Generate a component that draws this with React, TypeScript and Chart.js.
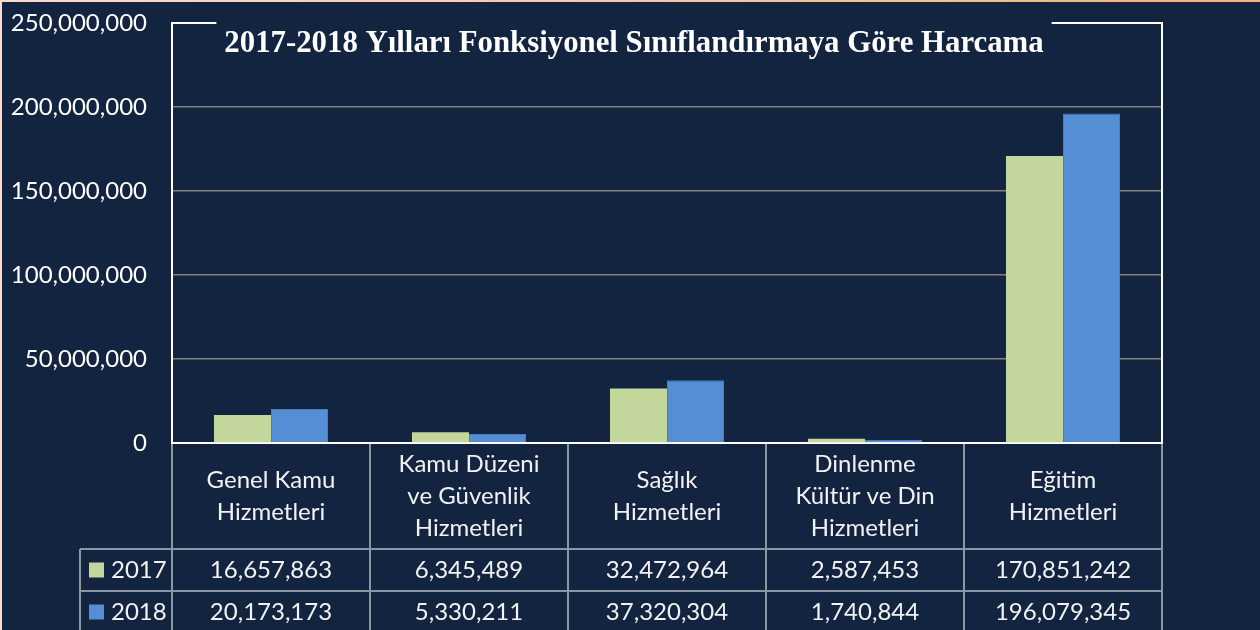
import React, { useEffect, useRef } from 'react';
import { Chart, registerables } from 'chart.js';

Chart.register(...registerables);

const categories: string[][] = [
  ['Genel Kamu', 'Hizmetleri'],
  ['Kamu Düzeni', 've Güvenlik', 'Hizmetleri'],
  ['Sağlık', 'Hizmetleri'],
  ['Dinlenme', 'Kültür ve Din', 'Hizmetleri'],
  ['Eğitim', 'Hizmetleri'],
];
const seriesNames = ['2017', '2018'];
const values2017 = [16657863, 6345489, 32472964, 2587453, 170851242];
const values2018 = [20173173, 5330211, 37320304, 1740844, 196079345];
const yMin = 0;
const yMax = 250000000;
const yStep = 50000000;
const titleText = '2017-2018 Yılları Fonksiyonel Sınıflandırmaya Göre Harcama';

const NAVY = '#12243f';
const GREEN = '#c3d69b';
const BLUE = '#558ed5';
const TABLE_LINE = '#8d96a3';
const FONT = 'Lato, "Noto Sans", sans-serif';

const fmt = (v: number) => Number(v).toLocaleString('en-US');

const decorPlugin = {
  id: 'decor',
  beforeDraw(chart: any) {
    const { ctx, width, height } = chart;
    ctx.save();
    ctx.fillStyle = NAVY;
    ctx.fillRect(0, 0, width, height);
    const g = ctx.createLinearGradient(0, 0, width, 0);
    g.addColorStop(0, '#fbdccf');
    g.addColorStop(1, '#f4b27c');
    ctx.fillStyle = g;
    ctx.fillRect(0, 0, width, 2);
    ctx.fillStyle = '#fbdccf';
    ctx.fillRect(0, 0, 2, height);
    ctx.restore();
  },
  afterDraw(chart: any) {
    const { ctx, chartArea: ca, height } = chart;
    const xs = chart.scales.x;
    const n = chart.data.labels.length;
    const catW = (ca.right - ca.left) / n;
    ctx.save();

    // frame top + right
    ctx.strokeStyle = '#ffffff';
    ctx.lineWidth = 2;
    ctx.beginPath();
    ctx.moveTo(ca.left, ca.top);
    ctx.lineTo(ca.right, ca.top);
    ctx.lineTo(ca.right, ca.bottom);
    ctx.stroke();

    // title box
    ctx.font = 'bold 30.8px "Liberation Serif", "Times New Roman", serif';
    const tw = ctx.measureText(titleText).width;
    const cx = 634;
    ctx.fillStyle = NAVY;
    ctx.fillRect(cx - tw / 2 - 8, ca.top - 4, tw + 16, 8);
    ctx.fillStyle = '#ffffff';
    ctx.textAlign = 'center';
    ctx.textBaseline = 'alphabetic';
    ctx.fillText(titleText, cx, 52);

    // table
    const headerBottom = ca.bottom + 106;
    const rowH = 42;
    const legendLeft = 80;
    ctx.strokeStyle = TABLE_LINE;
    ctx.lineWidth = 2;
    ctx.beginPath();
    for (let r = 0; r < seriesNames.length; r++) {
      const y = headerBottom + r * rowH;
      ctx.moveTo(legendLeft, y);
      ctx.lineTo(ca.right, y);
    }
    ctx.moveTo(legendLeft, headerBottom);
    ctx.lineTo(legendLeft, height);
    for (let i = 0; i <= n; i++) {
      const bx = ca.left + i * catW;
      ctx.moveTo(bx, ca.bottom + 1);
      ctx.lineTo(bx, height);
    }
    ctx.stroke();

    // header labels
    ctx.fillStyle = '#f2f2f2';
    ctx.font = `24px ${FONT}`;
    ctx.textAlign = 'center';
    ctx.textBaseline = 'middle';
    const headerCenter = (ca.bottom + headerBottom) / 2;
    const lh = 32;
    (chart.data.labels as string[][]).forEach((lines, i) => {
      const px = xs.getPixelForValue(i);
      const start = headerCenter - ((lines.length - 1) * lh) / 2;
      lines.forEach((t, j) => ctx.fillText(t, px, start + j * lh));
    });

    // rows
    chart.data.datasets.forEach((ds: any, r: number) => {
      const cy = headerBottom + r * rowH + rowH / 2;
      ctx.fillStyle = ds.backgroundColor;
      ctx.fillRect(89, cy - 7.5, 15, 15);
      ctx.fillStyle = '#f2f2f2';
      ctx.textAlign = 'left';
      ctx.fillText(ds.label, 111, cy);
      ctx.textAlign = 'center';
      ds.data.forEach((v: number, i: number) => {
        ctx.fillText(fmt(v), xs.getPixelForValue(i), cy);
      });
    });
    ctx.restore();
  },
};

export default function App() {
  const ref = useRef<HTMLCanvasElement | null>(null);
  useEffect(() => {
    if (!ref.current) return;
    const chart = new Chart(ref.current, {
      type: 'bar',
      data: {
        labels: categories as any,
        datasets: [
          { label: seriesNames[0], data: values2017, backgroundColor: GREEN, borderWidth: 0 },
          { label: seriesNames[1], data: values2018, backgroundColor: BLUE, borderColor: '#4a7ebb', borderWidth: 1 },
        ],
      },
      options: {
        responsive: false,
        animation: false,
        layout: { padding: { left: 0, top: 23, right: 98, bottom: 81 } },
        datasets: { bar: { categoryPercentage: 0.576, barPercentage: 1 } },
        plugins: { legend: { display: false }, title: { display: false }, tooltip: { enabled: false } },
        scales: {
          x: {
            grid: { display: false },
            border: { display: true, color: '#ffffff', width: 2 },
            ticks: { display: false },
            afterFit: (s: any) => { s.height = 106; },
          },
          y: {
            min: yMin,
            max: yMax,
            ticks: {
              stepSize: yStep,
              color: '#ffffff',
              font: { family: FONT, size: 24 },
              padding: 25,
              callback: (v: any) => fmt(v),
            },
            grid: { color: '#808080', lineWidth: 1.5, drawTicks: false },
            border: { display: true, color: '#ffffff', width: 2 },
            afterFit: (s: any) => { s.width = 172; s.paddingTop = 0; s.paddingBottom = 0; },
          },
        },
      },
      plugins: [decorPlugin],
    });
    return () => chart.destroy();
  }, []);
  return (
    <canvas
      ref={ref}
      width={1260}
      height={630}
      style={{ position: 'fixed', left: 0, top: 0, display: 'block', width: 1260, height: 630 }}
    />
  );
}
